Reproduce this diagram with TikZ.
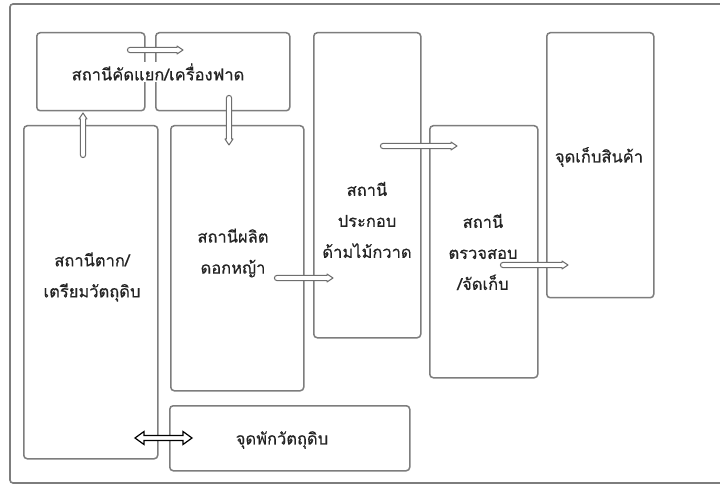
\documentclass[tikz,border=0pt]{standalone}
\usepackage{fontspec}
\newfontfamily\thaifont[Script=Thai, FakeBold=0.5]{Loma}
\definecolor{boxgray}{RGB}{125,125,125}
\definecolor{arrgray}{RGB}{110,110,110}
\definecolor{txt}{RGB}{35,35,35}
\newcommand\garrow[3]{%
  \begin{scope}[shift={(#1)}, rotate=#2]
    \draw[barr] (0,2.6) arc[start angle=90, end angle=270, radius=2.6]
      -- (#3-6,-2.6) -- (#3-6,-4) -- (#3,0) -- (#3-6,4) -- (#3-6,2.6) -- cycle;
  \end{scope}}
\begin{document}
\begin{tikzpicture}[x=1pt,y=-1pt,
  box/.style={draw=boxgray, line width=1.5pt, rounded corners=3.5pt, inner sep=0pt, anchor=north west},
  lbl/.style={font=\thaifont\fontsize{16.5}{31}\selectfont, text=txt, align=center, inner sep=0pt},
  barr/.style={draw=arrgray, fill=white, line width=1pt, line join=round},
  barr2/.style={draw=black, fill=white, line width=1.2pt, line join=miter},
]
\useasboundingbox (0,0) rectangle (720,486);
\clip (0,0) rectangle (720,486);
\fill[white] (0,0) rectangle (720,486);
% outer frame
\draw[draw=boxgray, line width=1.6pt, rounded corners=3pt] (10,4) rectangle (760,483);
% boxes
\node[box, minimum width=108pt, minimum height=78pt]  (A) at (36,32) {};
\node[box, minimum width=134pt, minimum height=78pt]  (B) at (155,32) {};
\node[box, minimum width=134pt, minimum height=333pt] (C) at (23,125) {};
\node[box, minimum width=133pt, minimum height=265pt] (D) at (170,125) {};
\node[box, minimum width=107pt, minimum height=305pt] (E) at (313,32) {};
\node[box, minimum width=108pt, minimum height=252pt] (F) at (429,125) {};
\node[box, minimum width=107pt, minimum height=265pt] (G) at (546,32) {};
\node[box, minimum width=240pt, minimum height=65pt]  (H) at (169,405) {};
% labels
\node[lbl, fill=white, inner sep=1pt] (tA) at (158,72) {สถานีคัดแยก/เครื่องฟาด};
\node[lbl] (tC) at (92,277) {สถานีตาก/\\เตรียมวัตถุดิบ};
\node[lbl] (tD) at (233,253) {สถานีผลิต\\ดอกหญ้า};
\node[lbl] (tE) at (367,220) {สถานี\\ประกอบ\\ด้ามไม้กวาด};
\node[lbl] (tF) at (483,252) {สถานี\\ตรวจสอบ\\/จัดเก็บ};
\node[lbl] (tG) at (599,157) {จุดเก็บสินค้า};
\node[lbl] (tH) at (282,440) {จุดพักวัตถุดิบ};
% arrow tails
\coordinate (a1) at (130,50);
\coordinate (a2) at (83,155);
\coordinate (a3) at (229,98);
\coordinate (a4) at (277,278);
\coordinate (a5) at (383,146);
\coordinate (a6) at (503,265);
\coordinate (a7) at (135,438);
\garrow{a1}{0}{53}
\garrow{a2}{90}{42}
\garrow{a3}{-90}{47}
\garrow{a4}{0}{56}
\garrow{a5}{0}{74}
\garrow{a6}{0}{65}
\begin{scope}[shift={(a7)}]
  \draw[barr2] (0,0) -- (9,-6.5) -- (9,-2.5) -- (48,-2.5) -- (48,-6.5) -- (57,0)
    -- (48,6.5) -- (48,2.5) -- (9,2.5) -- (9,6.5) -- cycle;
\end{scope}
\end{tikzpicture}
\end{document}
